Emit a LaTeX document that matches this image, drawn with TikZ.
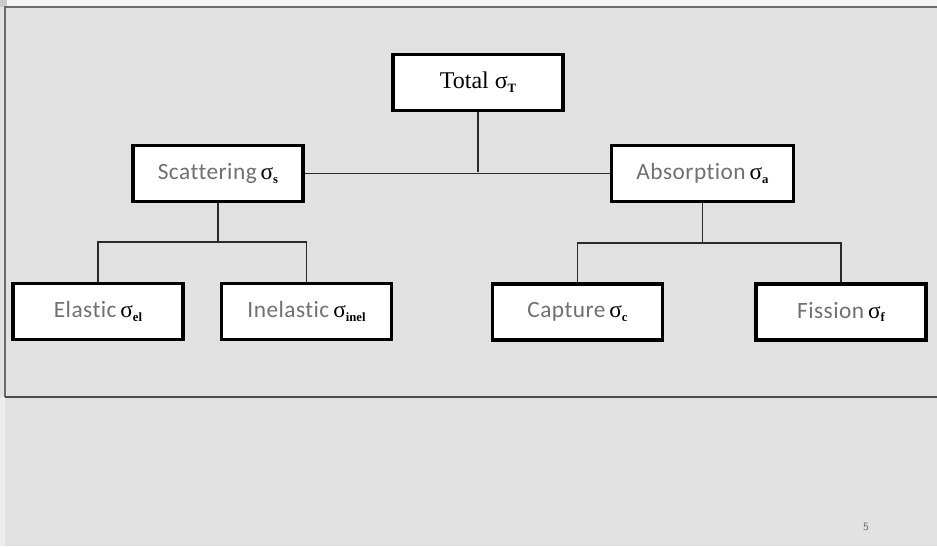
\documentclass[tikz,border=0pt]{standalone}
\usepackage{fontspec}
\setmainfont{Liberation Serif}
\newfontfamily\wordfont{Carlito}[Ligatures=NoCommon, LetterSpace=2]
\definecolor{pagebg}{HTML}{E2E2E2}
\definecolor{panelbg}{HTML}{E1E1E1}
\definecolor{topbar}{HTML}{F4F4F4}
\definecolor{edgegray}{HTML}{CACACA}
\definecolor{framegray}{HTML}{6A6A6A}
\definecolor{framedark}{HTML}{4A4A4A}
\definecolor{wordgray}{HTML}{707070}
\definecolor{wiregray}{HTML}{2A2A2A}

% sigma with a small bold index
\newcommand{\sigidx}[1]{{\rmfamily σ}\raisebox{-0.35ex}{\rmfamily\bfseries\fontsize{9.5}{10}\selectfont #1}}
\newcommand{\wordlabel}[2]{{\wordfont\color{wordgray}#1}\,{\color{black}\sigidx{#2}}}

\begin{document}
\begin{tikzpicture}[x=0.75pt,y=-0.75pt,
  treebox/.style={draw=black, line width=2.3pt, fill=white,
    minimum width=127.5pt, minimum height=42pt, inner sep=0pt,
    font=\fontsize{17.5}{20}\selectfont},
  wire/.style={draw=wiregray, line width=0.8pt}]
\useasboundingbox (0,0) rectangle (937,546);

% slide background and framed panel
\fill[pagebg] (0,0) rectangle (937,546);
\fill[topbar] (0,0) rectangle (937,7);
\fill[edgegray] (0,0) rectangle (7,7);
\fill[topbar!60!pagebg] (0,397) rectangle (5,546);
\fill[panelbg] (5,7) rectangle (945,397);
\draw[framegray, line width=1.4pt] (945,7) -- (5,7) -- (5,397);
\draw[framedark, line width=2pt] (5,397) -- (945,397);

% boxes
\node[treebox, font=\fontsize{18}{20}\selectfont] (tot) at (478,82.5) {Total \sigidx{T}};
\node[treebox] (sca) at (218,173.5) {\wordlabel{Scattering}{s}};
\node[treebox, minimum width=136pt] (abs) at (702.5,173.5) {\wordlabel{Absorption}{a}};
\node[treebox] (ela) at (98,311.5) {\wordlabel{Elastic}{el}};
\node[treebox] (ine) at (306.5,311.5) {\wordlabel{Inelastic}{inel}};
\node[treebox] (cap) at (577.5,312) {\wordlabel{Capture}{c}};
\node[treebox] (fis) at (841,312) {\wordlabel{Fission}{f}};

% junction points
\coordinate (jt) at (478,172);
\coordinate (js) at (218,242);
\coordinate (ja) at (702.5,243);

% connectors
\draw[wire] (tot.south) -- (jt);
\draw[wire] (sca.east) -- (abs.west);
\draw[wire] (sca.south) -- (js);
\draw[wire] (ela.north) |- (js) -| (ine.north);
\draw[wire] (abs.south) -- (ja);
\draw[wire] (cap.north) |- (ja) -| (fis.north);

% page number
\node[font=\sffamily\fontsize{8.5}{9}\selectfont, text=wordgray] (pg) at (866,527) {5};
\end{tikzpicture}
\end{document}
